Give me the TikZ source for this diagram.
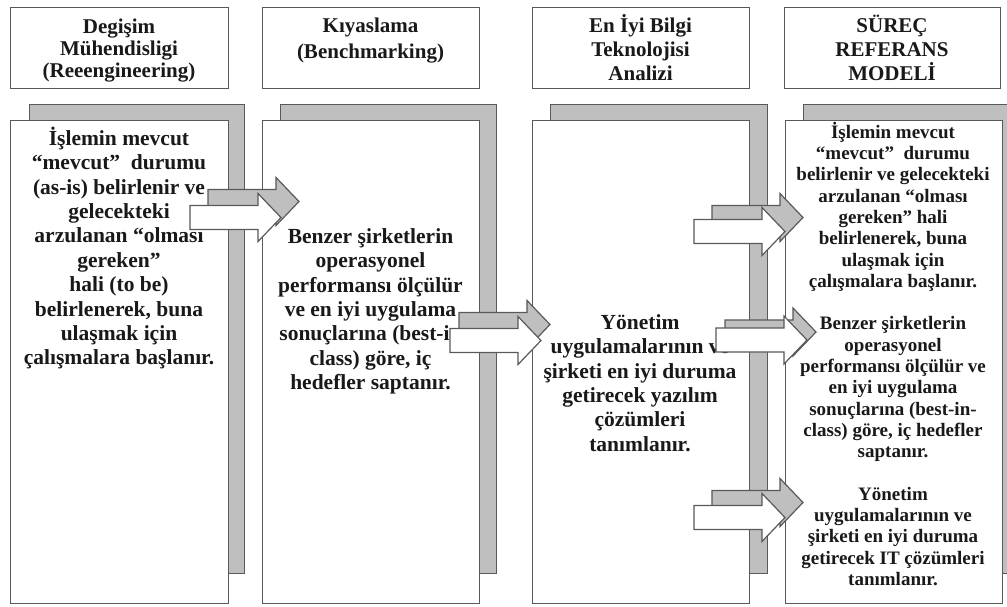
\documentclass[tikz,border=0pt]{standalone}
\usepackage{fontspec}
\setmainfont{Liberation Serif}
\newcommand{\topstrut}[1]{\rule{0pt}{#1}}
\begin{document}
\begin{tikzpicture}[x=1pt,y=-1pt,
  edge/.style={draw=black!65, line width=1.2pt},
  backbox/.style={edge, fill=black!25, anchor=north west, inner sep=0pt},
  frontbox/.style={edge, fill=white, anchor=north west, inner sep=0pt},
  headbox/.style={edge, fill=white, anchor=north west, inner sep=0pt,
    minimum height=81pt},
  headtext/.style={inner sep=0pt, align=center, anchor=north, text=black!90,
    font=\bfseries\fontsize{21pt}{#1}\selectfont},
  bodytext/.style={inner sep=0pt, align=center, anchor=north, text=black!90,
    font=\bfseries\fontsize{21.5pt}{24.4pt}\selectfont},
  smalltext/.style={inner sep=0pt, align=center, anchor=north, text=black!90,
    font=\bfseries\fontsize{19pt}{21.3pt}\selectfont},
  arrowback/.style={edge, fill=black!25},
  arrowfront/.style={edge, fill=white},
  pics/blockarrow/.style={code={
    \path[#1] (0,-12) -- (68,-12) -- (68,-24) -- (91,0) -- (68,24)
      -- (68,12) -- (0,12) -- cycle;
  }}
]
\useasboundingbox (0,0) rectangle (1007,606);
\clip (0,0) rectangle (1007,606);
\fill[white] (0,0) rectangle (1007,606);

% column headers
\node[headbox, minimum width=218pt] (h1) at (10,7) {};
\node[headbox, minimum width=217pt] (h2) at (262,7) {};
\node[headbox, minimum width=217pt] (h3) at (532,7) {};
\node[headbox, minimum width=216pt] (h4) at (784,7) {};

\node[headtext=22pt] (ht1) at (119,14)
  {\topstrut{19pt}Degişim\\Mühendisligi\\(Reeengineering)};
\node[headtext=26pt] (ht2) at (370.5,13)
  {\topstrut{19pt}Kıyaslama\\(Benchmarking)};
\node[headtext=24pt] (ht3) at (640.5,13)
  {\topstrut{19pt}En İyi Bilgi\\Teknolojisi\\Analizi};
\node[headtext=24pt] (ht4) at (892,13)
  {\topstrut{19pt}SÜREÇ\\REFERANS\\MODELİ};

% shadow panels behind the content panels
\node[backbox, minimum width=215pt, minimum height=469pt] (g1) at (29,104) {};
\node[backbox, minimum width=216pt, minimum height=469pt] (g2) at (280,104) {};
\node[backbox, minimum width=217pt, minimum height=469pt] (g3) at (550,104) {};
\node[backbox, minimum width=217pt, minimum height=469pt] (g4) at (803,104) {};

% content panels
\node[frontbox, minimum width=218pt, minimum height=483pt] (f1) at (10,120) {};
\node[frontbox, minimum width=217pt, minimum height=483pt] (f2) at (262,120) {};
\node[frontbox, minimum width=217pt, minimum height=483pt] (f3) at (532,120) {};
\node[frontbox, minimum width=217pt, minimum height=483pt] (f4) at (785,120) {};

% panel texts
\node[bodytext] (t1) at (119,125)
  {\topstrut{20pt}İşlemin mevcut\\“mevcut”~ durumu\\(as-is) belirlenir ve\\
   gelecekteki\\arzulanan “olması\\gereken”\\hali (to be)\\
   belirlenerek, buna\\ulaşmak için\\çalışmalara başlanır.};
\node[bodytext] (t2) at (370.5,223)
  {\topstrut{20pt}Benzer şirketlerin\\operasyonel\\performansı ölçülür\\
   ve en iyi uygulama\\sonuçlarına (best-in\\class) göre, iç\\
   hedefler saptanır.};
\node[bodytext] (t3) at (640,309)
  {\topstrut{20pt}Yönetim\\uygulamalarının ve\\şirketi en iyi duruma\\
   getirecek yazılım\\çözümleri\\tanımlanır.};
\node[smalltext] (t4) at (893,120)
  {\topstrut{18pt}İşlemin mevcut\\“mevcut”~ durumu\\belirlenir ve gelecekteki\\
   arzulanan “olması\\gereken” hali\\belirlenerek, buna\\ulaşmak için\\
   çalışmalara başlanır.\\[21.3pt]
   Benzer şirketlerin\\operasyonel\\performansı ölçülür ve\\en iyi uygulama\\
   sonuçlarına (best-in-\\class) göre, iç hedefler\\saptanır.\\[21.3pt]
   Yönetim\\uygulamalarının ve\\şirketi en iyi duruma\\
   getirecek IT çözümleri\\tanımlanır.};

% block arrows with their offset shadows
\pic (a1s) at (208,201.5) {blockarrow=arrowback};
\pic (a1)  at (190,217.5) {blockarrow=arrowfront};
\pic (a2s) at (459,324.5) {blockarrow=arrowback};
\pic (a2)  at (450,340.5) {blockarrow=arrowfront};
\pic (a3s) at (712,217.5) {blockarrow=arrowback};
\pic (a3)  at (694,231.5) {blockarrow=arrowfront};
\pic (a4s) at (725,332) {blockarrow=arrowback};
\pic (a4)  at (716,340) {blockarrow=arrowfront};
\pic (a5s) at (712,502.5) {blockarrow=arrowback};
\pic (a5)  at (694,517.5) {blockarrow=arrowfront};
\end{tikzpicture}
\end{document}
